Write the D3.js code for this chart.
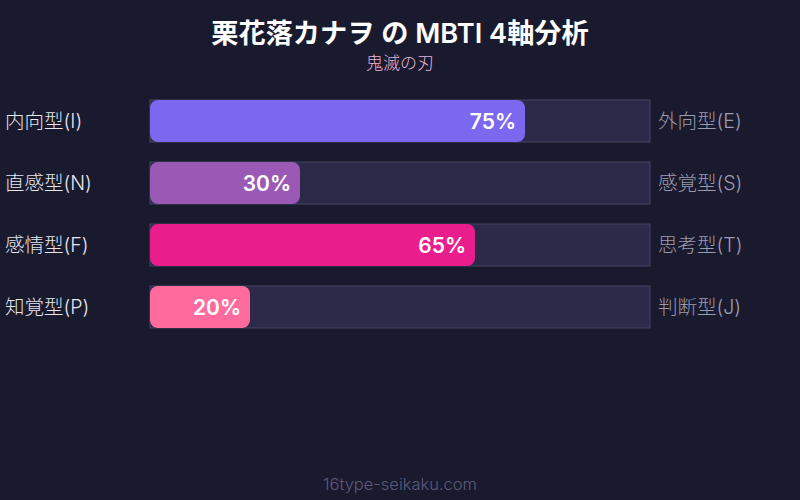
<!DOCTYPE html>
<html><head><meta charset="utf-8">
<script src="https://cdn.jsdelivr.net/npm/d3@7/dist/d3.min.js"></script>
<style>html,body{margin:0;padding:0;background:#1a1a2e;}svg{display:block;}</style>
</head><body>
<svg id="c" width="800" height="500"></svg>
<script>
const leftLabels = ["内向型(I)", "直感型(N)", "感情型(F)", "知覚型(P)"];
const rightLabels = ["外向型(E)", "感覚型(S)", "思考型(T)", "判断型(J)"];
const values = [75, 30, 65, 20];
const colors = ["#7b68ee", "#9b59b6", "#e91e8c", "#ff6b9d"];
const title = "栗花落カナヲ の MBTI 4軸分析";
const subtitle = "鬼滅の刃";
const footer = "16type-seikaku.com";

const font = "'Inter','Noto Sans CJK JP',sans-serif";
const svg = d3.select("#c");
svg.append("rect").attr("width",800).attr("height",500).attr("fill","#1a1a2e");

const x = d3.scaleLinear().domain([0,100]).range([150,650]);
const yb = d3.scalePoint().domain(d3.range(values.length)).range([100,286]);
const bh = 42;

svg.append("text").attr("x",400).attr("y",43).attr("text-anchor","middle")
  .attr("font-family",font).attr("font-weight",600).attr("font-size",27.2).attr("fill","#ffffff").text(title);
svg.append("text").attr("x",400).attr("y",69).attr("text-anchor","middle")
  .attr("font-family",font).attr("font-weight",300).attr("font-size",17).attr("fill","#e8b4d8").text(subtitle);

const g = svg.selectAll("g.row").data(values).enter().append("g").attr("class","row");
g.append("rect").attr("x",x(0)).attr("y",(d,i)=>yb(i)).attr("width",x(100)-x(0)).attr("height",bh)
  .attr("fill","#2c2a48").attr("stroke","#474566").attr("stroke-width",1);
g.append("rect").attr("x",x(0)).attr("y",(d,i)=>yb(i)).attr("width",d=>x(d)-x(0)).attr("height",bh)
  .attr("rx",8).attr("fill",(d,i)=>colors[i]);
g.append("text").attr("x",d=>x(d)-9).attr("y",(d,i)=>yb(i)+bh/2+7.5).attr("text-anchor","end")
  .attr("font-family",font).attr("font-weight",600).attr("font-size",21).attr("fill","#ffffff").text(d=>d+"%");
g.append("text").attr("x",5).attr("y",(d,i)=>yb(i)+bh/2+7).attr("font-family",font).attr("font-weight",300).attr("font-size",19.5)
  .attr("fill","#e6e6ee").text((d,i)=>leftLabels[i]);
g.append("text").attr("x",658).attr("y",(d,i)=>yb(i)+bh/2+7).attr("font-family",font).attr("font-weight",300).attr("font-size",19.5)
  .attr("fill","#9c9cb0").text((d,i)=>rightLabels[i]);

svg.append("text").attr("x",400).attr("y",490).attr("text-anchor","middle")
  .attr("font-family",font).attr("font-weight",300).attr("font-size",16.5).attr("fill","#5a5a7a").text(footer);
</script>
</body></html>
